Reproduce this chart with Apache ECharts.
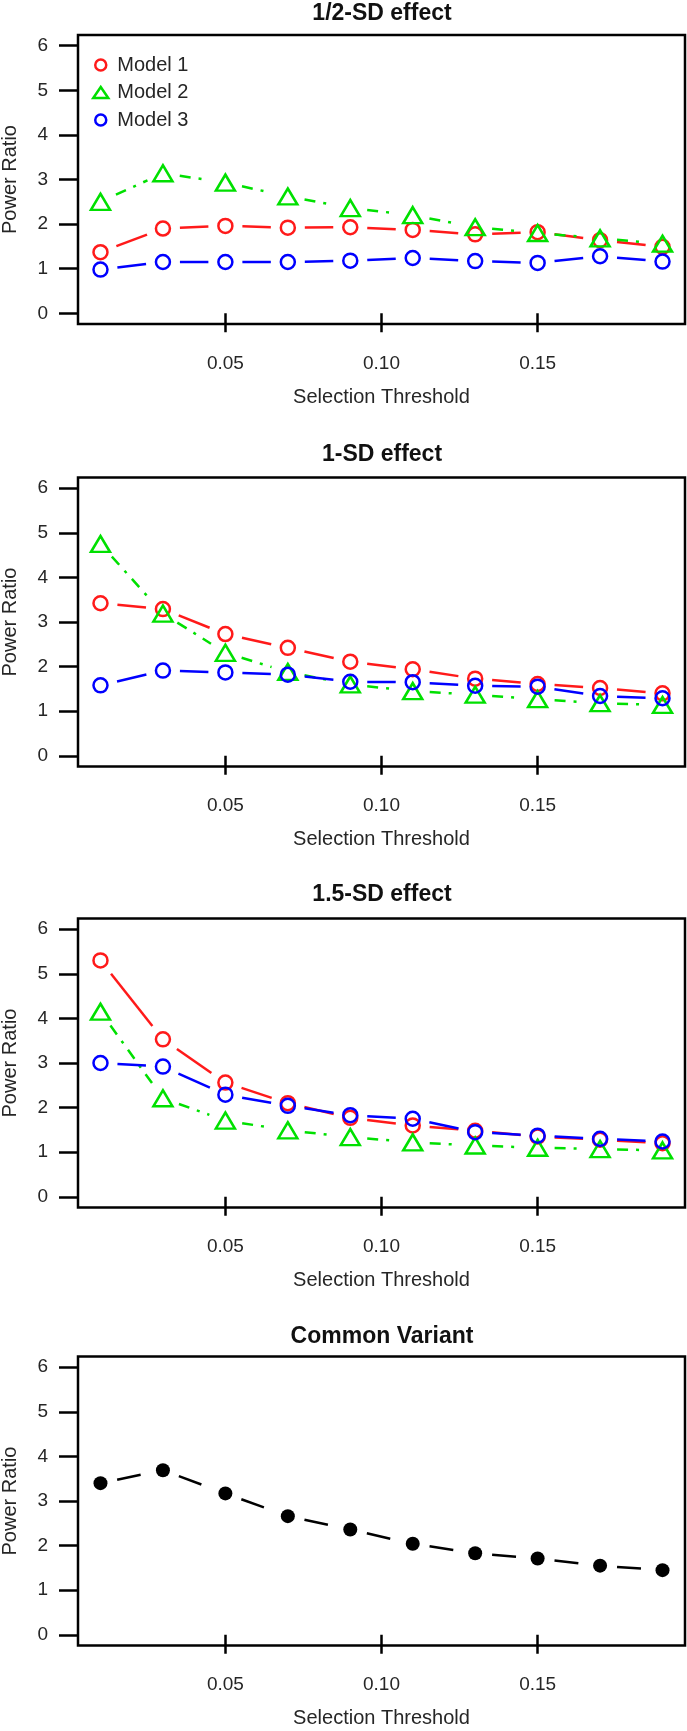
<!DOCTYPE html>
<html>
<head>
<meta charset="utf-8">
<style>
  html, body { margin: 0; padding: 0; background: #fff; }
  #main { width: 687px; height: 1731px; }
</style>
<script src="https://cdn.jsdelivr.net/npm/echarts@6/dist/echarts.min.js"></script>
</head>
<body>
<div id="main"></div>
<script>
var myChart = echarts.init(document.getElementById('main'));

// data
var thresholds = [0.01, 0.03, 0.05, 0.07, 0.09, 0.11, 0.13, 0.15, 0.17, 0.19];
var xTicks = [0.05, 0.10, 0.15];
var yTicks = [0, 1, 2, 3, 4, 5, 6];
var panelTitles = ['1/2-SD effect', '1-SD effect', '1.5-SD effect', 'Common Variant'];
var modelNames = ['Model 1', 'Model 2', 'Model 3'];

var halfSD_m1 = [1.37, 1.90, 1.96, 1.92, 1.93, 1.87, 1.77, 1.82, 1.64, 1.49];
var halfSD_m2 = [2.50, 3.14, 2.93, 2.62, 2.36, 2.20, 1.93, 1.80, 1.68, 1.56];
var halfSD_m3 = [0.98, 1.15, 1.15, 1.15, 1.18, 1.24, 1.17, 1.13, 1.28, 1.16];

var oneSD_m1 = [3.42, 3.29, 2.73, 2.42, 2.11, 1.94, 1.73, 1.61, 1.52, 1.40];
var oneSD_m2 = [4.75, 3.19, 2.31, 1.88, 1.60, 1.45, 1.37, 1.27, 1.18, 1.14];
var oneSD_m3 = [1.58, 1.91, 1.87, 1.82, 1.66, 1.65, 1.57, 1.55, 1.34, 1.29];

var onePtFiveSD_m1 = [5.30, 3.53, 2.56, 2.10, 1.77, 1.60, 1.48, 1.35, 1.28, 1.20];
var onePtFiveSD_m2 = [4.15, 2.21, 1.71, 1.49, 1.34, 1.22, 1.15, 1.10, 1.07, 1.04];
var onePtFiveSD_m3 = [3.00, 2.92, 2.29, 2.04, 1.83, 1.75, 1.45, 1.37, 1.30, 1.24];

var commonVariant = [3.40, 3.69, 3.17, 2.66, 2.36, 2.04, 1.83, 1.71, 1.55, 1.45];

// styles
var RED = '#ff1a1a', GREEN = '#00e000', BLUE = '#0000ff', BLACK = '#000';
var FONT = "'Liberation Sans', Arial, Helvetica, sans-serif";
var TXT = '#262626';
var GAP = 17; // R type="b": lines stop short of the points
var panelTops = [35, 477.5, 918.5, 1356.5];
var titleMids = [13.5, 455, 895, 1336.5];
var boxH = 289;

function pairs(ys) {
  return thresholds.map(function (x, i) { return [x, ys[i]]; });
}
function segments(ys) {
  var out = [];
  for (var i = 0; i < thresholds.length - 1; i++) {
    out.push([thresholds[i], ys[i], thresholds[i + 1], ys[i + 1]]);
  }
  return out;
}
function segRenderer(color, dash) {
  return function (params, api) {
    var p0 = api.coord([api.value(0), api.value(1)]);
    var p1 = api.coord([api.value(2), api.value(3)]);
    var dx = p1[0] - p0[0], dy = p1[1] - p0[1];
    var len = Math.sqrt(dx * dx + dy * dy);
    var g = GAP / len;
    return {
      type: 'line',
      shape: { x1: p0[0] + dx * g, y1: p0[1] + dy * g, x2: p1[0] - dx * g, y2: p1[1] - dy * g },
      style: { stroke: color, lineWidth: 2.5, lineDash: dash, fill: null }
    };
  };
}

var grids = [], xAxes = [], yAxes = [], titles = [], series = [];

panelTops.forEach(function (top, k) {
  grids.push({
    left: 78, top: top, width: 607, height: boxH,
    show: true, borderColor: '#000', borderWidth: 2.5,
    outerBoundsMode: 'none'
  });
  xAxes.push({
    type: 'value', gridIndex: k, min: 0.0028, max: 0.1972,
    name: 'Selection Threshold', nameLocation: 'middle', nameGap: 63,
    nameTextStyle: { fontSize: 20, color: TXT, fontFamily: FONT },
    axisLine: { show: false },
    axisTick: { show: true, length: 19, customValues: xTicks, lineStyle: { color: '#000', width: 2.5 } },
    axisLabel: {
      customValues: xTicks, margin: 30, fontSize: 19, color: TXT, fontFamily: FONT,
      formatter: function (v) { return v.toFixed(2); }
    },
    splitLine: { show: false }
  });
  yAxes.push({
    type: 'value', gridIndex: k, min: -0.24, max: 6.24,
    name: 'Power Ratio', nameLocation: 'middle', nameGap: 58, nameRotate: 90,
    nameTextStyle: { fontSize: 20, color: TXT, fontFamily: FONT },
    axisLine: { show: false },
    axisTick: { show: true, length: 19, customValues: yTicks, lineStyle: { color: '#000', width: 2.5 } },
    axisLabel: {
      customValues: yTicks, margin: 30, fontSize: 19, color: TXT, fontFamily: FONT,
      formatter: function (v) { return String(Math.round(v)); }
    },
    splitLine: { show: false }
  });
  titles.push({
    text: panelTitles[k], left: 382, textAlign: 'center', top: titleMids[k] - 11.5, padding: 0,
    textStyle: { fontSize: 23, fontWeight: 'bold', color: '#111', fontFamily: FONT, lineHeight: 23 }
  });
});

function addModel(k, name, ys, color, dash, symbol, size) {
  series.push({
    name: name + ' line', type: 'custom', xAxisIndex: k, yAxisIndex: k,
    renderItem: segRenderer(color, dash), data: segments(ys),
    encode: { x: [0, 2], y: [1, 3] }, silent: true
  });
  series.push({
    name: name, type: 'scatter', xAxisIndex: k, yAxisIndex: k,
    symbol: symbol, symbolSize: size, data: pairs(ys),
    itemStyle: { color: 'rgba(0,0,0,0)', borderColor: color, borderWidth: 2.5, opacity: 1 },
    silent: true
  });
}

var panelData = [
  [halfSD_m1, halfSD_m2, halfSD_m3],
  [oneSD_m1, oneSD_m2, oneSD_m3],
  [onePtFiveSD_m1, onePtFiveSD_m2, onePtFiveSD_m3]
];
panelData.forEach(function (sets, k) {
  addModel(k, modelNames[0], sets[0], RED, null, 'circle', 14);
  addModel(k, modelNames[1], sets[1], GREEN, [11, 8, 3, 8], 'triangle', [19, 16]);
  addModel(k, modelNames[2], sets[2], BLUE, null, 'circle', 14);
});

// common variant panel
series.push({
  name: 'Common line', type: 'custom', xAxisIndex: 3, yAxisIndex: 3,
  renderItem: segRenderer(BLACK, [24, 10]), data: segments(commonVariant),
  encode: { x: [0, 2], y: [1, 3] }, silent: true
});
series.push({
  name: 'Common Variant', type: 'scatter', xAxisIndex: 3, yAxisIndex: 3,
  symbol: 'circle', symbolSize: 14, data: pairs(commonVariant),
  itemStyle: { color: BLACK, opacity: 1 }, silent: true
});

var option = {
  animation: false,
  backgroundColor: '#fff',
  title: titles,
  grid: grids,
  xAxis: xAxes,
  yAxis: yAxes,
  legend: {
    orient: 'vertical', left: 92, top: 55, padding: 0, itemGap: 7.5,
    itemWidth: 15, itemHeight: 11, selectedMode: false,
    textStyle: { fontSize: 20, color: TXT, fontFamily: FONT, lineHeight: 20, padding: [0, 0, 0, 4] },
    data: [
      { name: 'Model 1', icon: 'circle', itemStyle: { color: 'rgba(0,0,0,0)', borderColor: RED, borderWidth: 2.5 } },
      { name: 'Model 2', icon: 'triangle', itemStyle: { color: 'rgba(0,0,0,0)', borderColor: GREEN, borderWidth: 2.5 } },
      { name: 'Model 3', icon: 'circle', itemStyle: { color: 'rgba(0,0,0,0)', borderColor: BLUE, borderWidth: 2.5 } }
    ]
  },
  series: series
};

myChart.setOption(option);
</script>
</body>
</html>
